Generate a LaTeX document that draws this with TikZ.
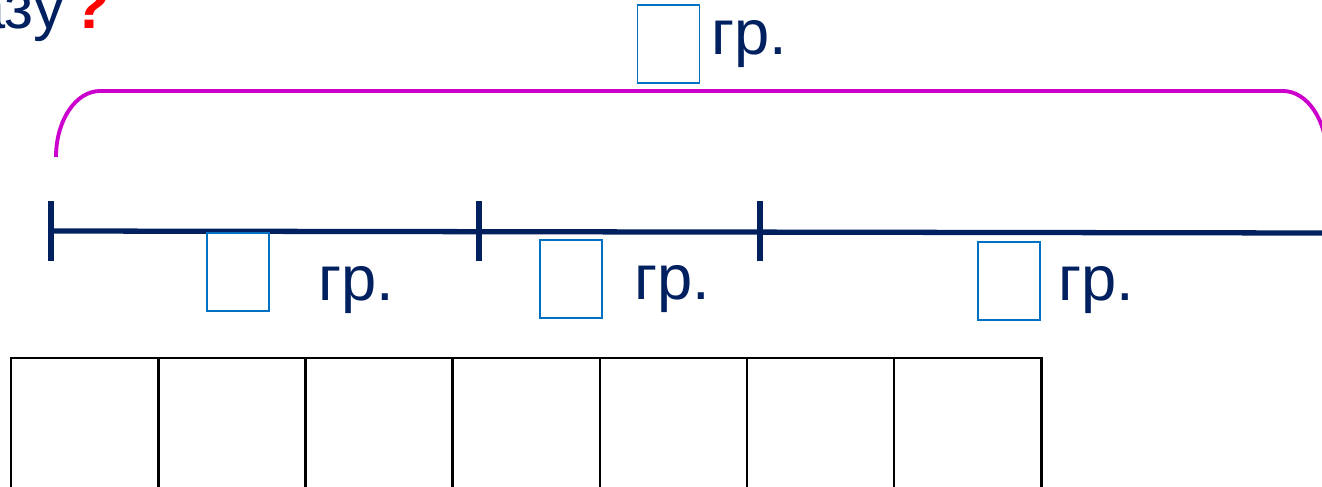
\documentclass[tikz,border=0pt]{standalone}
\usepackage{fontspec}
\setmainfont{Liberation Sans}
\definecolor{navy}{RGB}{0,32,96}
\definecolor{boxblue}{RGB}{0,112,192}
\definecolor{bracepink}{RGB}{204,0,204}
\begin{document}
\begin{tikzpicture}[
    answer/.style={draw=boxblue, line width=1pt, minimum width=1.24cm, minimum height=1.56cm, inner sep=0pt},
    unit/.style={anchor=base west, inner sep=0pt, text=navy, font=\fontsize{36}{40}\selectfont},
    cell/.style={draw=black, line width=1.4pt, anchor=north west, minimum width=2.943cm, minimum height=3cm, inner sep=0pt}
  ]
    \useasboundingbox (0,0) rectangle (26.44,9.72);
    \clip (0,0) rectangle (26.44,9.72);

    % Question text (cut off)
    \node[unit, anchor=base east] (question) at (1.3,9.15) {азу};
    \node[unit, text=red, font=\fontsize{36}{40}\selectfont\bfseries] (qmark) at (1.42,9.15) {?};

    % Brace over the whole segment
    \coordinate (bl) at (1.12,6.58);
    \draw[bracepink, line width=2.2pt] (bl) arc[start angle=180, end angle=90, x radius=0.88, y radius=1.32]
        -- (25.66,7.9) arc[start angle=90, end angle=0, x radius=0.88, y radius=1.32];
    \node[answer] (total) at (13.37,8.84) {};
    \node[unit] (totalunit) at (14.22,8.62) {гр.};

    % Segment with ticks
    \coordinate (t0) at (1.02,5.1);
    \coordinate (t1) at (9.58,5.1);
    \coordinate (t2) at (15.2,5.1);
    \coordinate (tend) at (26.6,5.06);
    \draw[navy, line width=3pt] (t0) -- (tend);
    \foreach \t in {t0,t1,t2}
        \draw[navy, line width=3.2pt] ([yshift=0.6cm]\t) -- ([yshift=-0.6cm]\t);

    % Parts
    \node[answer] (part1) at (4.76,4.28) {};
    \node[unit] (unit1) at (6.36,3.72) {гр.};
    \node[answer] (part2) at (11.42,4.14) {};
    \node[unit] (unit2) at (12.68,3.74) {гр.};
    \node[answer] (part3) at (20.18,4.10) {};
    \node[unit] (unit3) at (21.16,3.72) {гр.};

    % Row of cells
    \foreach \i in {0,...,6}
        \node[cell] (cell\i) at (0.2+2.943*\i,2.58) {};
\end{tikzpicture}
\end{document}
